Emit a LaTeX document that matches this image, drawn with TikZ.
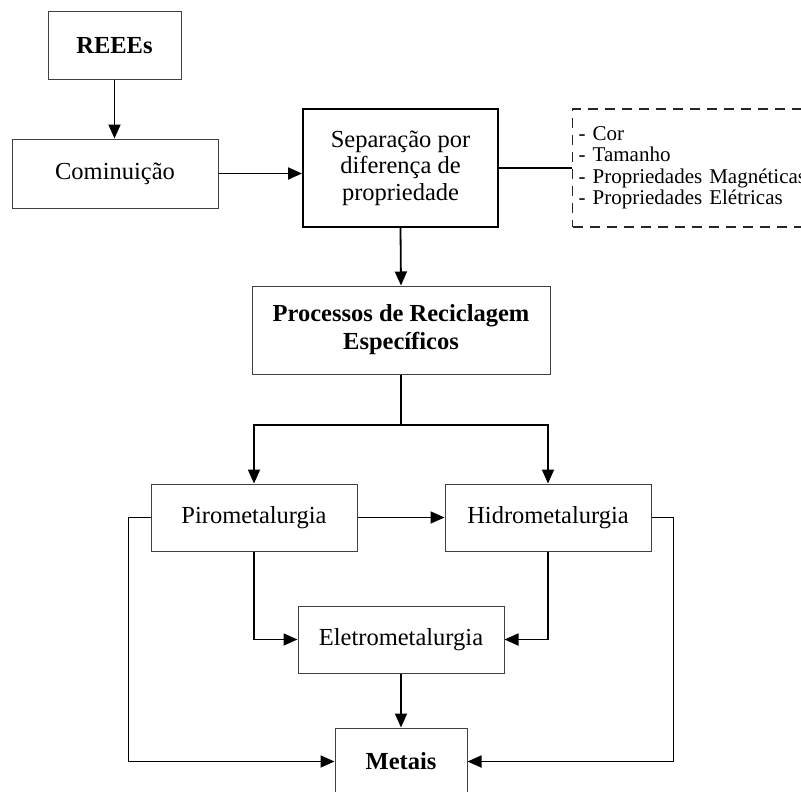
\documentclass[tikz,border=0pt]{standalone}
\usepackage{fontspec}
\setmainfont{Liberation Serif}
\usetikzlibrary{arrows.meta}
\tikzset{
  box/.style={draw=black!75, line width=1pt, minimum height=67pt, inner sep=0pt, align=center,
              font=\fontsize{24.5}{26.5}\selectfont},
  thickbox/.style={box, draw=black, line width=2pt},
  conn/.style={line width=1.8pt, black},
  arr/.style={conn, -{Triangle[length=14pt,width=12pt]}},
  dashbox/.style={draw=black!85, line width=1.3pt, dash pattern=on 10pt off 7pt, inner xsep=6pt,
              text width=256pt, align=left, font=\fontsize{21}{21.5}\selectfont, minimum height=118pt}
}
\begin{document}
\begin{tikzpicture}[x=1pt,y=-1pt]
\useasboundingbox (0,0) rectangle (801,792);
\node[box, minimum width=133pt, minimum height=68pt] (reee) at (114.5,46) {\textbf{REEEs}};
\node[box, minimum width=206pt, minimum height=69pt] (comin) at (115,173.5) {Cominuição};
\node[thickbox, minimum width=195pt, minimum height=118pt] (sep) at (400.5,168) {Separação por\\diferença de\\propriedade};
\node[dashbox, anchor=west] (props) at (572,168) {- Cor\\- Tamanho\\- Propriedades Magnéticas\\- Propriedades Elétricas};
\node[box, minimum width=298pt, minimum height=88pt, font=\fontsize{24.5}{28}\selectfont] (proc) at (401,330) {\textbf{Processos de Reciclagem}\\\textbf{Específicos}};
\node[box, minimum width=206pt] (piro) at (254,517.5) {Pirometalurgia};
\node[box, minimum width=206pt] (hidro) at (548,517.5) {Hidrometalurgia};
\node[box, minimum width=206pt] (eletro) at (401,639.5) {Eletrometalurgia};
\node[box, minimum width=132pt] (metais) at (401,761.5) {\textbf{Metais}};
\coordinate (br) at (401,425);

\draw[arr] (reee.south) -- (comin.north -| reee.south);
\draw[arr] (comin.east) -- (comin.east -| sep.west);
\draw[conn] (sep.east) -- (props.west);
\draw[arr] (sep.south) -- (proc.north);
\draw[conn] (proc.south) -- (br);
\draw[arr] (br) -| (piro.north);
\draw[arr] (br) -| (hidro.north);
\draw[arr] (piro.east) -- (hidro.west);
\draw[arr] (piro.south) |- (eletro.west);
\draw[arr] (hidro.south) |- (eletro.east);
\draw[arr] (eletro.south) -- (metais.north);
\draw[arr] (piro.west) -- ++(-22,0) |- (metais.west);
\draw[arr] (hidro.east) -- ++(22,0) |- (metais.east);
\end{tikzpicture}
\end{document}
